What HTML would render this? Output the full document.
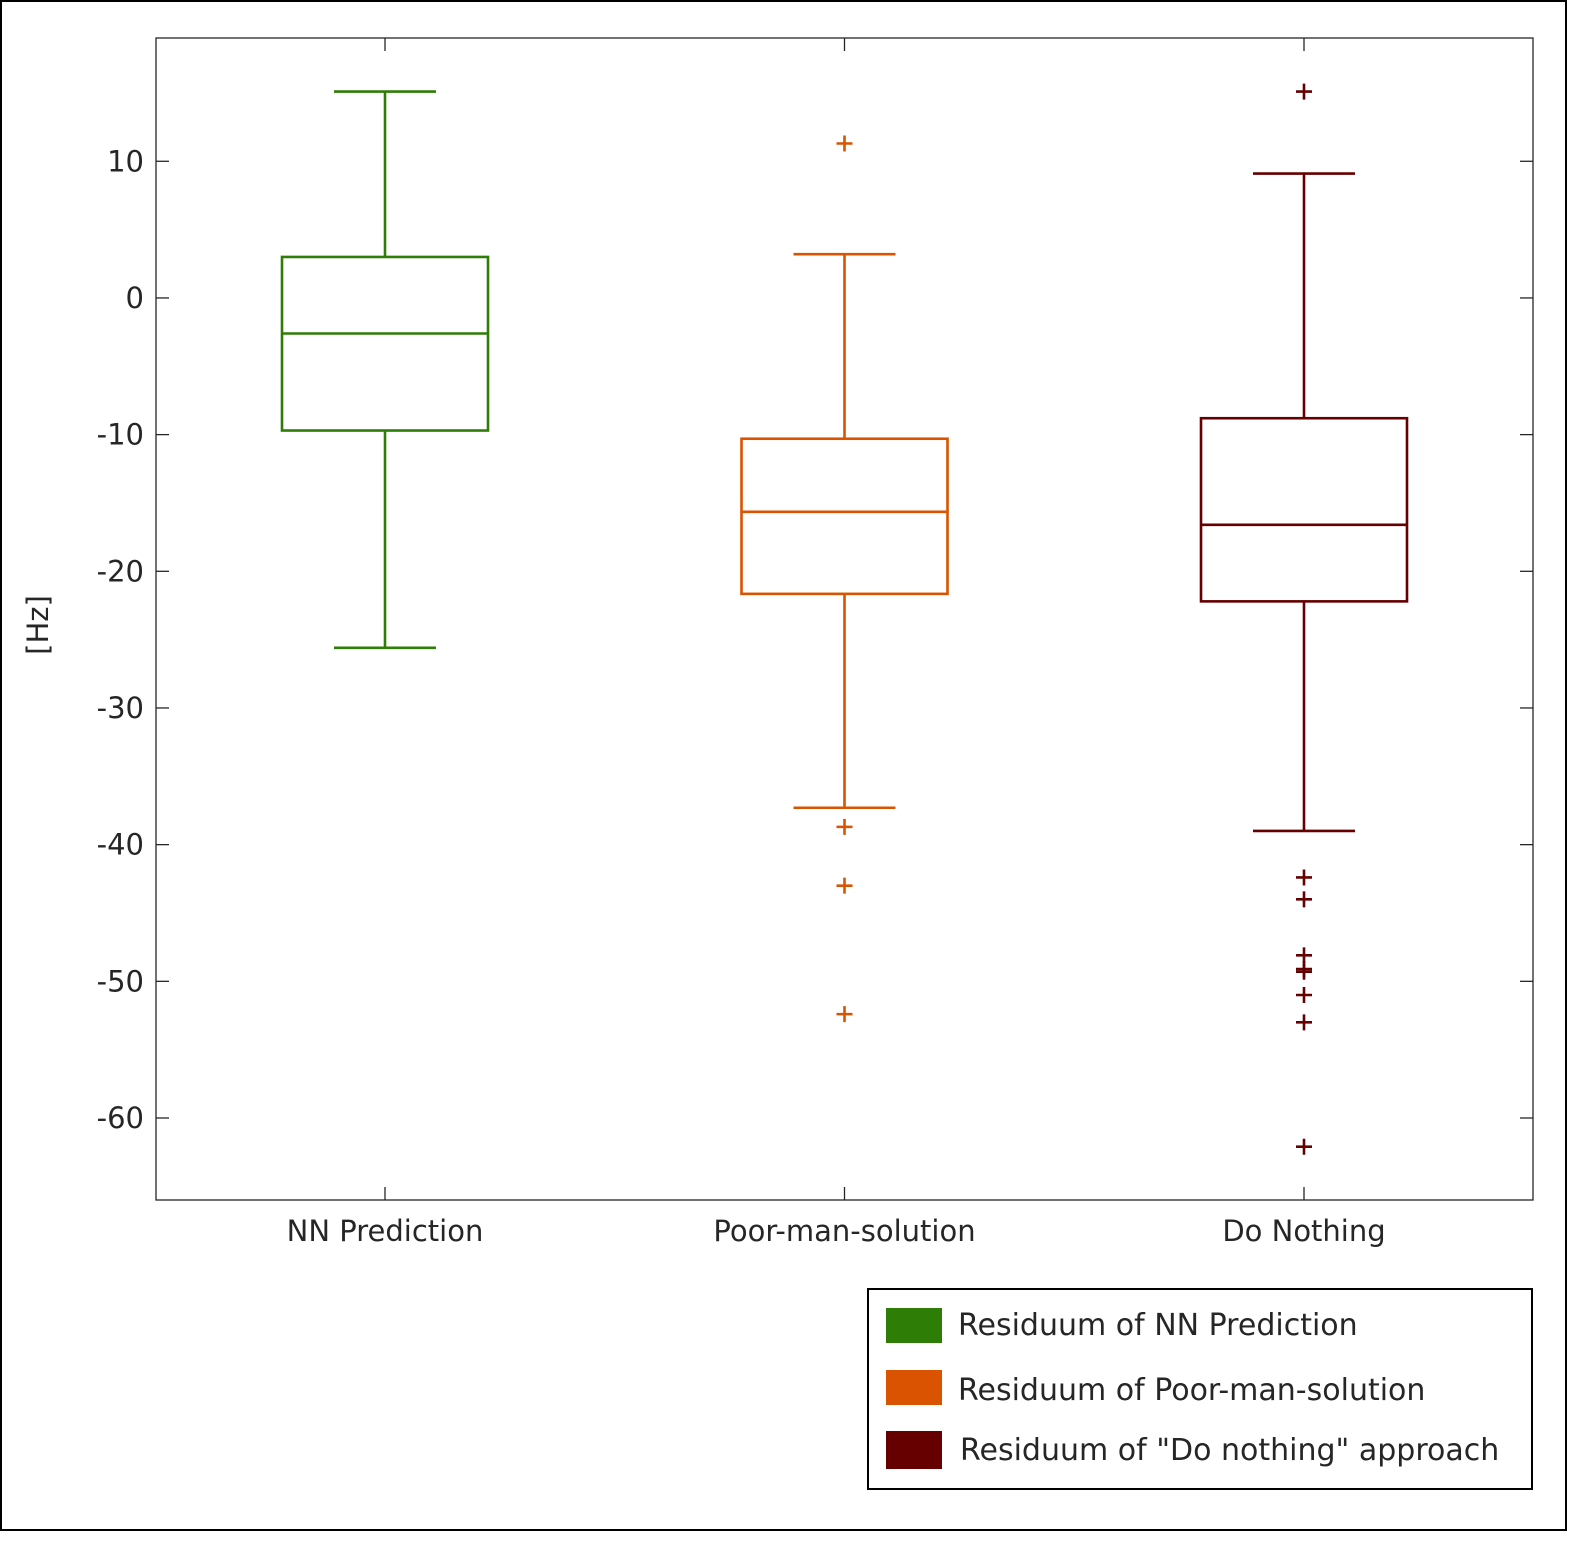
<!DOCTYPE html>
<html><head><meta charset="utf-8"><style>
html,body{margin:0;padding:0;background:#fff;}
svg{display:block;font-family:"DejaVu Sans","Liberation Sans",sans-serif;}
</style></head><body>
<svg id="chart" width="1577" height="1542" viewBox="0 0 1577 1542">
<rect x="1" y="1" width="1565" height="1529" fill="#fff" stroke="#000" stroke-width="2"/>
<g id="axes"></g>
<g id="boxes"></g>
<text x="48" y="625" font-size="29" fill="#262626" text-anchor="middle" transform="rotate(-90 48 625)">[Hz]</text>
<g>
<rect x="868" y="1289" width="664" height="200" fill="#fff" stroke="#000" stroke-width="2"/>
<g><rect x="886" y="1308" width="56" height="35" fill="#2e7d07"/><text x="958" y="1335" font-size="30" fill="#262626">Residuum of NN Prediction</text></g>
<g><rect x="886" y="1370" width="56" height="35" fill="#d95300"/><text x="958" y="1400" font-size="30" fill="#262626">Residuum of Poor-man-solution</text></g>
<g><rect x="886" y="1431" width="56" height="38" fill="#660000"/><text x="960" y="1460" font-size="30" fill="#262626">Residuum of "Do nothing" approach</text></g>
</g>
</svg>
<script>
const categories = ["NN Prediction","Poor-man-solution","Do Nothing"];
const colors = ["#2e7d07","#d95300","#660000"];
const whiskerHigh = [15.1, 3.2, 9.1];
const q3 = [3.0, -10.3, -8.8];
const median = [-2.6, -15.65, -16.6];
const q1 = [-9.7, -21.65, -22.2];
const whiskerLow = [-25.6, -37.3, -39.0];
const outliers = [[], [11.3, -38.7, -43.0, -52.4], [15.1, -42.4, -44.0, -48.1, -49.1, -49.3, -51.0, -53.0, -62.1]];
const yTicks = [10, 0, -10, -20, -30, -40, -50, -60];

const L=156,R=1533,T=38,B=1200,ymax=19.02,ymin=-66.0;
const ns="http://www.w3.org/2000/svg";
const ys=v=>T+(ymax-v)/(ymax-ymin)*(B-T);
const xs=i=>L+(i+0.5)/categories.length*(R-L)+(i-1)*0.5;
function mk(tag,attrs,parent){const e=document.createElementNS(ns,tag);for(const k in attrs)e.setAttribute(k,attrs[k]);parent.appendChild(e);return e;}
const ax=document.getElementById('axes'), bx=document.getElementById('boxes');
const frame=mk('rect',{x:L,y:T,width:R-L,height:B-T,fill:'none',stroke:'#262626','stroke-width':1.3},ax);


yTicks.forEach(v=>{
  const y=ys(v);
  mk('line',{x1:L,x2:L+13,y1:y,y2:y,stroke:'#262626','stroke-width':1.3},ax);
  mk('line',{x1:R-13,x2:R,y1:y,y2:y,stroke:'#262626','stroke-width':1.3},ax);
  const t=mk('text',{x:L-12,y:y+10,'font-size':29,fill:'#262626','text-anchor':'end'},ax);
  t.textContent=v;
  
  
});
categories.forEach((c,i)=>{
  const x=xs(i);
  mk('line',{x1:x,x2:x,y1:T,y2:T+13,stroke:'#262626','stroke-width':1.3},ax);
  mk('line',{x1:x,x2:x,y1:B-13,y2:B,stroke:'#262626','stroke-width':1.3},ax);
  const t=mk('text',{x:x,y:1241,'font-size':29,fill:'#262626','text-anchor':'middle'},ax);
  t.textContent=c;
  
  
  const g=mk('g',{stroke:colors[i],'stroke-width':2.6,fill:'none'},bx);
  
  
  const hw=103, cw=51;
  mk('rect',{x:x-hw,y:ys(q3[i]),width:2*hw,height:ys(q1[i])-ys(q3[i])},g);
  mk('line',{x1:x-hw,x2:x+hw,y1:ys(median[i]),y2:ys(median[i])},g);
  mk('line',{x1:x,x2:x,y1:ys(whiskerHigh[i]),y2:ys(q3[i])},g);
  mk('line',{x1:x,x2:x,y1:ys(q1[i]),y2:ys(whiskerLow[i])},g);
  mk('line',{x1:x-cw,x2:x+cw,y1:ys(whiskerHigh[i]),y2:ys(whiskerHigh[i])},g);
  mk('line',{x1:x-cw,x2:x+cw,y1:ys(whiskerLow[i]),y2:ys(whiskerLow[i])},g);
  outliers[i].forEach(v=>{
    const y=ys(v);
    const p=mk('path',{d:`M${x-8} ${y}H${x+8}M${x} ${y-8}V${y+8}`},g);
    
    
  });
});
</script>
</body></html>
